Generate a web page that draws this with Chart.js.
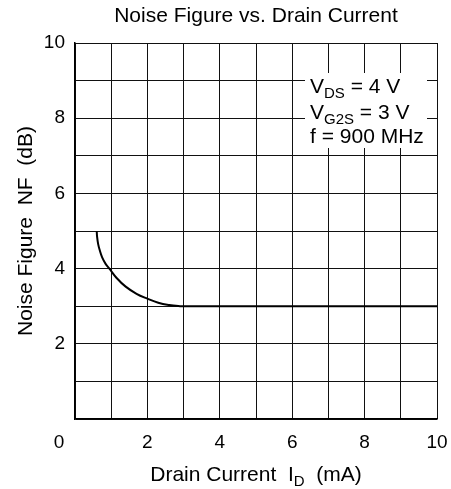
<!DOCTYPE html>
<html>
<head>
<meta charset="utf-8">
<script src="https://cdn.jsdelivr.net/npm/chart.js@4/dist/chart.umd.min.js"></script>
<style>
html,body{margin:0;padding:0;background:#fff;}
canvas{display:block;}
</style>
</head>
<body>
<canvas id="c" width="451" height="489"></canvas>
<script>
// Data
const drainCurrentMA = [0.6, 0.61, 0.64, 0.68, 0.75, 0.85, 0.95, 1.15, 1.4, 1.7, 2.0, 2.3, 2.6, 2.9, 3.0, 10];
const noiseFigureDB  = [5.0, 4.85, 4.65, 4.5, 4.3, 4.12, 4.0, 3.75, 3.52, 3.33, 3.2, 3.09, 3.03, 3.0, 3.0, 3.0];
const xTicks = [0, 2, 4, 6, 8, 10];
const yTicks = [0, 2, 4, 6, 8, 10];
const chartTitle = 'Noise Figure vs. Drain Current';
const xTitleRuns = [{t:'Drain Current  I'}, {t:'D', sub:true}, {t:'  (mA)'}];
const yTitleRuns = [{t:'Noise Figure  NF  (dB)'}];
const noteLines = [
  [{t:'V'}, {t:'DS', sub:true}, {t:' = 4 V'}],
  [{t:'V'}, {t:'G2S', sub:true}, {t:' = 3 V'}],
  [{t:'f = 900 MHz'}]
];

const FAM = '"Liberation Sans", Arial, Helvetica, sans-serif';
const MAIN = 21, SUB = 15;

function runsWidth(ctx, runs){
  let w = 0;
  runs.forEach(r => { ctx.font = (r.sub ? SUB : MAIN) + 'px ' + FAM; w += ctx.measureText(r.t).width; });
  return w;
}
function drawRuns(ctx, runs, x, y){
  let cx = x;
  runs.forEach(r => {
    ctx.font = (r.sub ? SUB : MAIN) + 'px ' + FAM;
    ctx.fillText(r.t, cx, r.sub ? y + 5 : y);
    cx += ctx.measureText(r.t).width;
  });
}

const textPlugin = {
  id: 'texts',
  afterDraw(chart){
    const ctx = chart.ctx, a = chart.chartArea;
    const xs = chart.scales.x;
    ctx.save();
    ctx.fillStyle = '#000';
    ctx.textBaseline = 'alphabetic';
    ctx.textAlign = 'left';
    const cx = (a.left + a.right) / 2;
    const cy = (a.top + a.bottom) / 2;
    // title
    ctx.font = MAIN + 'px ' + FAM;
    ctx.textAlign = 'center';
    ctx.fillText(chartTitle, cx, a.top - 21);
    ctx.textAlign = 'left';
    // x title
    let w = runsWidth(ctx, xTitleRuns);
    drawRuns(ctx, xTitleRuns, cx - w / 2, a.bottom + 62);
    // y title
    ctx.save();
    ctx.translate(32, cy);
    ctx.rotate(-Math.PI / 2);
    w = runsWidth(ctx, yTitleRuns);
    drawRuns(ctx, yTitleRuns, -w / 2, 0);
    ctx.restore();
    // shared origin label
    ctx.font = '19px ' + FAM;
    ctx.textAlign = 'center';
    ctx.textBaseline = 'middle';
    ctx.fillText(String(xTicks[0]), xs.getPixelForValue(xTicks[0]) - 16, a.bottom + 24);
    ctx.restore();
  },
  beforeDatasetsDraw(chart){
    const ctx = chart.ctx, a = chart.chartArea;
    ctx.save();
    const bx = a.right - 132, by = a.top + 30, bw = 122, bh = 75;
    ctx.fillStyle = '#fff';
    ctx.fillRect(bx, by, bw, bh);
    ctx.fillStyle = '#000';
    ctx.textBaseline = 'alphabetic';
    ctx.textAlign = 'left';
    const base = [by + 20, by + 46, by + 70];
    noteLines.forEach((ln, i) => drawRuns(ctx, ln, bx + 5, base[i]));
    ctx.restore();
  }
};

new Chart(document.getElementById('c'), {
  type: 'scatter',
  data: {
    datasets: [{
      data: drainCurrentMA.map((x, i) => ({x: x, y: noiseFigureDB[i]})),
      showLine: true,
      borderColor: '#000',
      borderWidth: 2,
      pointRadius: 0,
      fill: false,
      tension: 0.4
    }]
  },
  options: {
    responsive: false,
    animation: false,
    layout: {padding: {top: 43, right: 14, left: 0, bottom: 0}},
    plugins: {legend: {display: false}, title: {display: false}, tooltip: {enabled: false}},
    scales: {
      x: {
        type: 'linear', min: 0, max: 10,
        afterFit(s){ s.height = 70; s.paddingRight = 0; s.paddingLeft = 0; },
        grid: {color: '#111', lineWidth: 1, drawTicks: false},
        border: {display: true, color: '#000', width: 1.5},
        ticks: {
          stepSize: 1, autoSkip: false, maxRotation: 0, padding: 12, color: '#000',
          font: {family: FAM, size: 19},
          callback: v => (xTicks.includes(v) && v !== xTicks[0]) ? String(v) : ''
        }
      },
      y: {
        type: 'linear', min: 0, max: 10,
        afterFit(s){ s.width = 75; s.paddingTop = 0; s.paddingBottom = 0; },
        grid: {color: '#111', lineWidth: 1, drawTicks: false},
        border: {display: true, color: '#000', width: 1.5},
        ticks: {
          stepSize: 1, autoSkip: false, padding: 10, color: '#000',
          font: {family: FAM, size: 19},
          callback: v => (yTicks.includes(v) && v !== yTicks[0]) ? String(v) : ''
        }
      }
    }
  },
  plugins: [textPlugin]
});
</script>
</body>
</html>
